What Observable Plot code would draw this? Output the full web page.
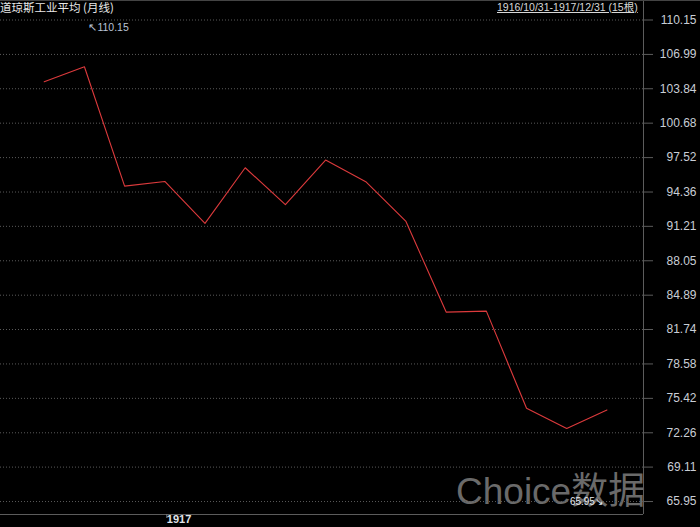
<!DOCTYPE html>
<html>
<head>
<meta charset="utf-8">
<script src="https://cdn.jsdelivr.net/npm/d3@7"></script>
<script src="https://cdn.jsdelivr.net/npm/@observablehq/plot@0.6"></script>
<style>
  html, body { margin: 0; padding: 0; background: #000; }
  #wrap { position: relative; width: 700px; height: 527px; overflow: hidden; background: #000; }
  #wrap svg { position: absolute; left: 0; top: 0; background: transparent; }
  .title { position: absolute; left: 0; top: 0; font: 11.5px "Noto Sans CJK SC", sans-serif; color: #e8e8e8; white-space: nowrap; line-height: 15px; }
  .range { position: absolute; left: 497px; top: 0; font: 10.5px "Liberation Sans", "Noto Sans CJK SC", sans-serif; color: #d8d8d8; text-decoration: underline; white-space: nowrap; line-height: 15px; }
  .wm { position: absolute; left: 456px; top: 470px; font: 37px "Liberation Sans", "Noto Sans CJK SC", sans-serif; color: #6a6a6a; white-space: nowrap; line-height: 44px; }
  .topline { position: absolute; left: 0; top: 0; width: 700px; height: 1px; background: #444; }
</style>
</head>
<body>
<div id="wrap">
  <div class="wm">Choice数据</div>
</div>
<script>
// Data (monthly closes, Dow Jones Industrial Average, 1916/10 - 1917/12)
const months = ["1916-10","1916-11","1916-12","1917-01","1917-02","1917-03","1917-04","1917-05","1917-06","1917-07","1917-08","1917-09","1917-10","1917-11","1917-12"];
const closes = [104.48, 105.86, 94.90, 95.33, 91.48, 96.59, 93.20, 97.29, 95.31, 91.66, 83.34, 83.43, 74.51, 72.65, 74.35];
const yTicks = [110.15, 106.99, 103.84, 100.68, 97.52, 94.36, 91.21, 88.05, 84.89, 81.74, 78.58, 75.42, 72.26, 69.11, 65.95];
const xTickLabels = [{month: "1917-01", label: "1917"}];
const highLabel = {month: "1916-11", value: 110.15, text: "↖110.15"};
const lowLabel = {month: "1917-12", value: 65.95, text: "65.95↘"};

const rows = months.map((m, i) => ({i, month: m, close: closes[i]}));
const idx = m => months.indexOf(m);
const xDomain = [-1.088, 14.91];
const yDomain = [64.76, 111.94];

const chart = Plot.plot({
  width: 700,
  height: 527,
  marginLeft: 0,
  marginRight: 57,
  marginTop: 0,
  marginBottom: 13,
  style: {background: "transparent", fontFamily: "Liberation Sans, sans-serif", fontSize: "12px"},
  x: {type: "linear", domain: xDomain},
  y: {type: "linear", domain: yDomain},
  marks: [
    Plot.gridY(yTicks, {stroke: "#5a5a5a", strokeOpacity: 1, strokeDasharray: "1,2"}),
    Plot.ruleY([yDomain[0]], {stroke: "#5c5c5c", strokeWidth: 1}),
    Plot.ruleX([xDomain[1]], {stroke: "#5c5c5c", strokeWidth: 1}),
    Plot.axisY({
      anchor: "right",
      ticks: yTicks,
      tickFormat: d => d.toFixed(2),
      tickSize: 9,
      tickPadding: 44,
      textAnchor: "end",
      stroke: "#5c5c5c",
      fill: "#c9ced6",
      fontSize: 12,
      label: null
    }),
    Plot.axisX({
      anchor: "bottom",
      ticks: xTickLabels.map(d => idx(d.month)),
      tickFormat: v => xTickLabels.find(d => idx(d.month) === v).label,
      tickSize: 4,
      tickPadding: -3,
      textAnchor: "start",
      dx: 2,
      stroke: "#7a7a7a",
      fill: "#e0e4ea",
      fontSize: 11,
      fontWeight: "bold",
      label: null
    }),
    Plot.line(rows, {x: "i", y: "close", stroke: "#dc3a3c", strokeWidth: 1.1}),
    Plot.text([highLabel], {x: d => idx(d.month), y: "value", text: "text", textAnchor: "start", dx: 4, dy: 8, fill: "#b9c4d6", fontSize: 10.5}),
    Plot.text([lowLabel], {x: d => idx(d.month), y: "value", text: "text", textAnchor: "end", dx: -4, dy: 0, fill: "#e4e8ee", fontSize: 10})
  ]
});

const wrap = document.getElementById("wrap");
wrap.appendChild(chart);
const t = document.createElement("div");
t.className = "title";
t.textContent = "道琼斯工业平均 (月线)";
wrap.appendChild(t);
const r = document.createElement("div");
r.className = "range";
r.textContent = "1916/10/31-1917/12/31 (15根)";
wrap.appendChild(r);
const tl = document.createElement("div");
tl.className = "topline";
wrap.appendChild(tl);
</script>
</body>
</html>
